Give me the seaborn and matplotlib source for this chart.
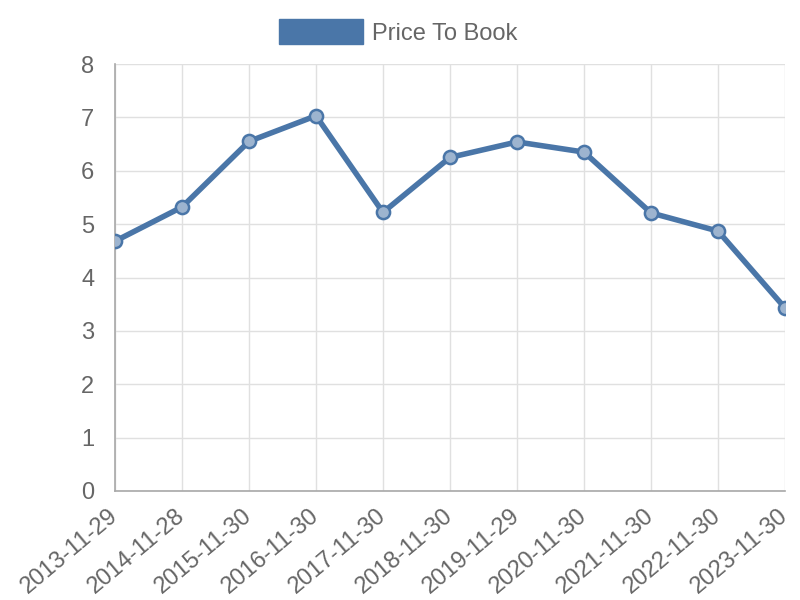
import numpy as np
import pandas as pd
import matplotlib
matplotlib.use('Agg')
import matplotlib.pyplot as plt
import seaborn as sns
from matplotlib.patches import Patch

# podaci ocitani sa slike
dates = ['2013-11-29', '2014-11-28', '2015-11-30', '2016-11-30', '2017-11-30',
         '2018-11-30', '2019-11-29', '2020-11-30', '2021-11-30', '2022-11-30',
         '2023-11-30']
price_to_book = [4.68, 5.32, 6.55, 7.03, 5.22, 6.25, 6.54, 6.35, 5.21, 4.87, 3.43]
series_name = 'Price To Book'

df = pd.DataFrame({'pos': np.arange(len(dates)), 'value': price_to_book})

sns.set_style('white')
plt.rcParams['font.family'] = ['Liberation Sans', 'DejaVu Sans']

blue = '#4a76a8'
grid_c = '#e0e0e0'
txt_c = '#666666'
fsize = 17

fig = plt.figure(figsize=(8, 6), dpi=100)
ax = fig.add_axes([0.14375, 0.1817, 0.8375, 0.7116])

sns.lineplot(data=df, x='pos', y='value', ax=ax, color=blue, linewidth=4,
             marker='o', markersize=9.5, markerfacecolor='#9db4cf',
             markeredgecolor=blue, markeredgewidth=1.8, zorder=3)

ax.set_xlim(0, len(dates) - 1)
ax.set_ylim(0, 8)
ax.set_xticks(df['pos'])
ax.set_xticklabels(dates, rotation=40, ha='right', va='center',
                   rotation_mode='anchor')
ax.set_yticks(range(0, 9))
ax.set_xlabel('')
ax.set_ylabel('')

ax.grid(True, color=grid_c, linewidth=1)
ax.set_axisbelow(True)
ax.tick_params(axis='both', colors=grid_c, labelcolor=txt_c, labelsize=fsize,
               length=14, width=1, direction='out', pad=1)
ax.tick_params(axis='x', pad=2)
for s in ['top', 'right']:
    ax.spines[s].set_visible(False)
for s in ['left', 'bottom']:
    ax.spines[s].set_color('#a8a8a8')
    ax.spines[s].set_linewidth(1.2)

handle = Patch(facecolor=blue, edgecolor=blue)
fig.legend([handle], [series_name], loc='center', bbox_to_anchor=(0.498, 0.9467),
           frameon=False, fontsize=fsize, labelcolor=txt_c,
           handlelength=3.55, handleheight=1.25, handletextpad=0.38)

fig.savefig('out.png', dpi=100)
